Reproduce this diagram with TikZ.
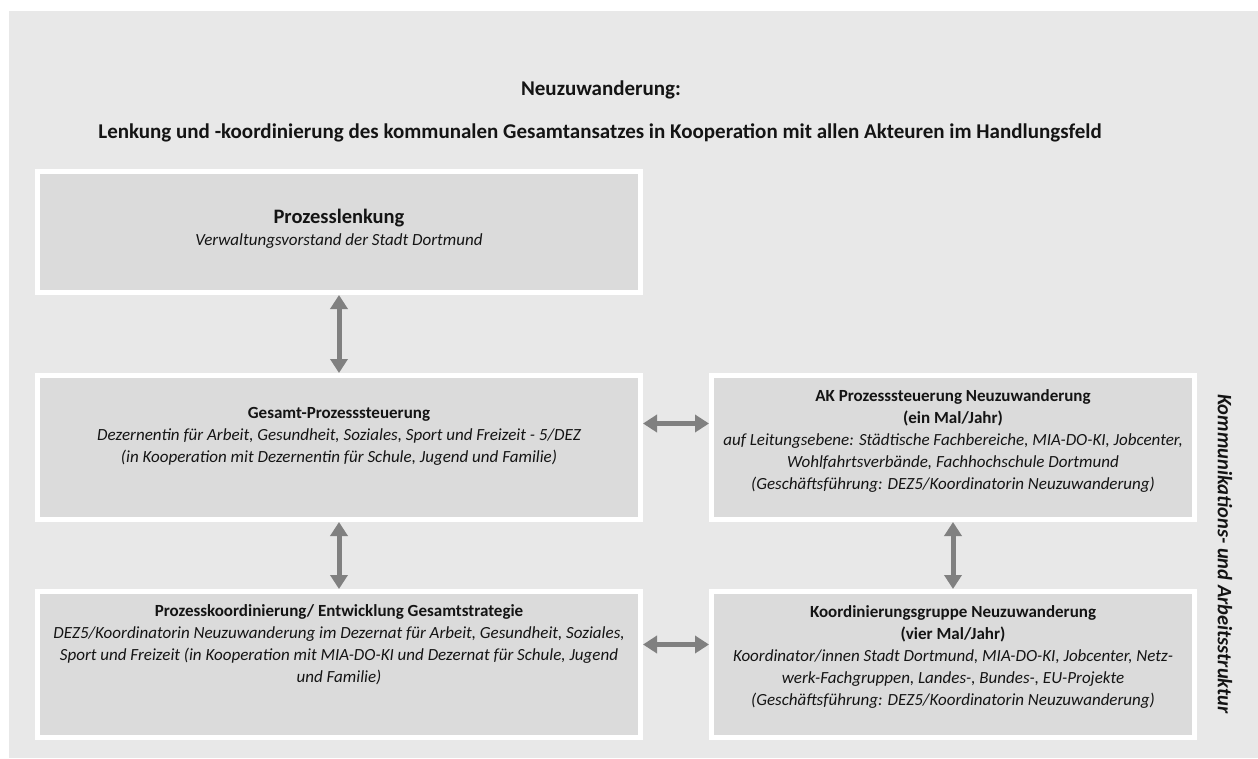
\documentclass[tikz,border=0pt]{standalone}
\usepackage{fontspec}
\setmainfont{Carlito}
\usepackage{xcolor}
\usetikzlibrary{arrows.meta}
\definecolor{pagebg}{RGB}{232,232,232}
\definecolor{boxbg}{RGB}{219,219,219}
\definecolor{arrowgray}{RGB}{128,128,128}
\definecolor{textcol}{RGB}{20,20,20}

\tikzset{
  stagebox/.style={draw=white, fill=boxbg, line width=5pt, inner sep=0pt},
  leftbox/.style={stagebox, minimum width=603pt},
  rightbox/.style={stagebox, minimum width=483pt},
  boxtext/.style={align=center, inner sep=0pt, text=textcol,
    font=\fontsize{17}{22}\selectfont},
  headtext/.style={boxtext, font=\bfseries\fontsize{21}{24}\selectfont},
  linkarrow/.style={draw=arrowgray, line width=5pt,
    {Triangle[width=17pt,length=14pt]}-{Triangle[width=17pt,length=14pt]}}
}

\begin{document}
\begin{tikzpicture}[x=1pt, y=-1pt]

% 1. PAGE & HEADING
\useasboundingbox (0,0) rectangle (1258,758);
\fill[pagebg] (9,11) rectangle (1258,758);
\node[headtext] (head) at (601,90) {Neuzuwanderung:};
\node[headtext] (subhead) at (600,133)
  {Lenkung und -koordinierung des kommunalen Gesamtansatzes in Kooperation mit allen Akteuren im Handlungsfeld};

% 2. LEFT COLUMN
\node[leftbox, minimum height=121pt] (lenk) at (339,232) {};
\node[leftbox, minimum height=144pt] (gesamt) at (339,447.5) {};
\node[leftbox, minimum height=146pt] (prokoord) at (339,664.5) {};

\node[boxtext] (lenktxt) at ([yshift=3pt]lenk.center)
  {{\bfseries\fontsize{20.5}{24}\selectfont Prozesslenkung}\\
   \itshape Verwaltungsvorstand der Stadt Dortmund};
\node[boxtext] (gesamttxt) at ([yshift=11pt]gesamt.center)
  {\bfseries Gesamt-Prozesssteuerung\\
   \itshape Dezernentin für Arbeit, Gesundheit, Soziales, Sport und Freizeit - 5/DEZ\\
   \itshape (in Kooperation mit Dezernentin für Schule, Jugend und Familie)};
\node[boxtext] (prokoordtxt) at ([yshift=20pt]prokoord.center)
  {\bfseries Prozesskoordinierung/ Entwicklung Gesamtstrategie\\
   \itshape DEZ5/Koordinatorin Neuzuwanderung im Dezernat für Arbeit, Gesundheit, Soziales,\\
   \itshape Sport und Freizeit (in Kooperation mit MIA-DO-KI und Dezernat für Schule, Jugend\\
   \itshape und Familie)};

% 3. RIGHT COLUMN
\node[rightbox, minimum height=144pt] (ak) at (953,447.5) {};
\node[rightbox, minimum height=146pt] (koordgr) at (953,664.5) {};

\node[boxtext] (aktxt) at ([yshift=7pt]ak.center)
  {\bfseries AK Prozesssteuerung Neuzuwanderung\\
   \bfseries (ein Mal/Jahr)\\
   \itshape auf Leitungsebene: Städtische Fachbereiche, MIA-DO-KI, Jobcenter,\\
   \itshape Wohlfahrtsverbände, Fachhochschule Dortmund\\
   \itshape (Geschäftsführung: DEZ5/Koordinatorin Neuzuwanderung)};
\node[boxtext] (koordgrtxt) at ([yshift=8pt]koordgr.center)
  {\bfseries Koordinierungsgruppe Neuzuwanderung\\
   \bfseries (vier Mal/Jahr)\\
   \itshape Koordinator/innen Stadt Dortmund, MIA-DO-KI, Jobcenter, Netz-\\
   \itshape werk-Fachgruppen, Landes-, Bundes-, EU-Projekte\\
   \itshape (Geschäftsführung: DEZ5/Koordinatorin Neuzuwanderung)};

% side label
\node[boxtext, rotate=-90, font=\bfseries\itshape\fontsize{20.5}{24}\selectfont] (struktur) at (1225,554)
  {Kommunikations- und Arbeitsstruktur};

% 4. ARROWS
\draw[linkarrow] (lenk.south) -- (gesamt.north);
\draw[linkarrow] (gesamt.south) -- (prokoord.north);
\draw[linkarrow] (ak.south) -- (koordgr.north);
\draw[linkarrow] ([yshift=24pt]gesamt.east) -- ([yshift=24pt]ak.west);
\draw[linkarrow] ([yshift=20pt]prokoord.east) -- ([yshift=20pt]koordgr.west);

\end{tikzpicture}
\end{document}
